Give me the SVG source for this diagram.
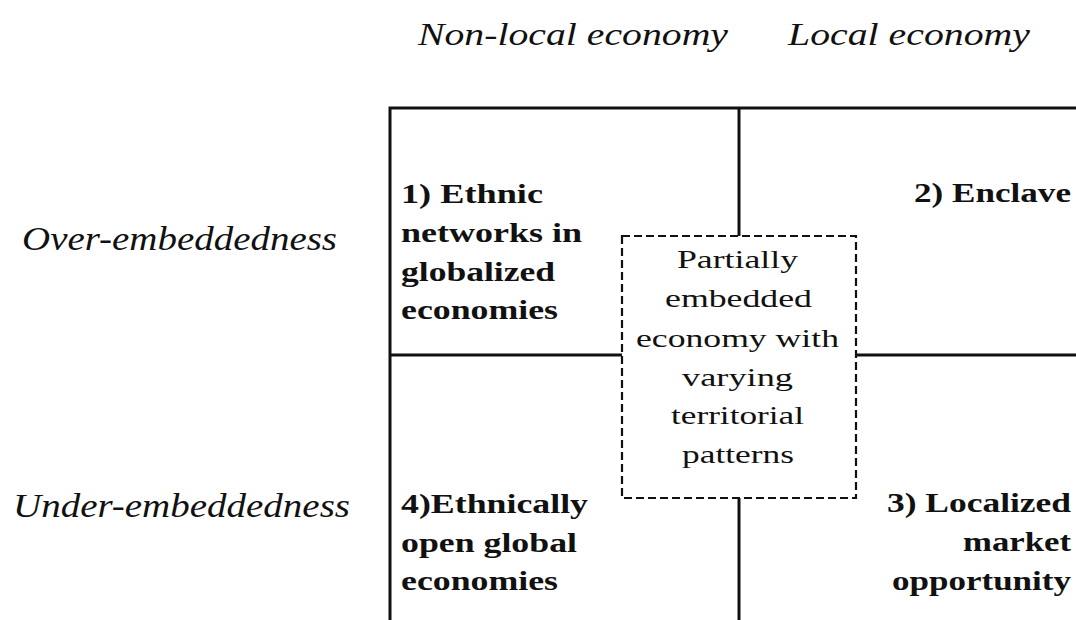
<svg xmlns="http://www.w3.org/2000/svg" width="1076" height="620" viewBox="0 0 1076 620">
<style>
text{font-family:'Liberation Serif',Tinos,'Times New Roman',Times,serif;fill:#111}
.ax{font-style:italic}
.b{font-weight:bold;font-size:27px}
.c{font-size:26px}
.ln{stroke:#111;stroke-width:3;fill:none}
.dash{stroke:#111;stroke-width:2.2;fill:#fff;stroke-dasharray:8 4}
</style>
<rect width="1076" height="620" fill="#fff"/>
<g id="axes">
<text class="ax" x="418" y="45" font-size="32" textLength="310" lengthAdjust="spacingAndGlyphs">Non-local economy</text>
<text class="ax" x="788" y="45" font-size="32" textLength="242" lengthAdjust="spacingAndGlyphs">Local economy</text>
<text class="ax" x="22" y="250" font-size="34" textLength="315" lengthAdjust="spacingAndGlyphs">Over-embeddedness</text>
<text class="ax" x="13" y="517" font-size="34" textLength="337" lengthAdjust="spacingAndGlyphs">Under-embeddedness</text>
</g>
<g id="connectors">
<path class="ln" d="M390 620 V108 H1076"/>
<path class="ln" d="M739 108 V236"/>
<path class="ln" d="M739 498 V620"/>
<path class="ln" d="M390 355 H622"/>
<path class="ln" d="M856 355 H1076"/>
</g>
<g id="q1">
<text class="b" x="401" y="203" textLength="142" lengthAdjust="spacingAndGlyphs">1) Ethnic</text>
<text class="b" x="401" y="242" textLength="181" lengthAdjust="spacingAndGlyphs">networks in</text>
<text class="b" x="401" y="281" textLength="154" lengthAdjust="spacingAndGlyphs">globalized</text>
<text class="b" x="401" y="319" textLength="157" lengthAdjust="spacingAndGlyphs">economies</text>
</g>
<g id="q2">
<text class="b" x="914" y="202" textLength="157" lengthAdjust="spacingAndGlyphs">2) Enclave</text>
</g>
<g id="q3">
<text class="b" x="887" y="512" textLength="184" lengthAdjust="spacingAndGlyphs">3) Localized</text>
<text class="b" x="963" y="551" textLength="108" lengthAdjust="spacingAndGlyphs">market</text>
<text class="b" x="892" y="590" textLength="179" lengthAdjust="spacingAndGlyphs">opportunity</text>
</g>
<g id="q4">
<text class="b" x="401" y="513" textLength="187" lengthAdjust="spacingAndGlyphs">4)Ethnically</text>
<text class="b" x="401" y="552" textLength="176" lengthAdjust="spacingAndGlyphs">open global</text>
<text class="b" x="401" y="590" textLength="157" lengthAdjust="spacingAndGlyphs">economies</text>
</g>
<g id="center">
<rect class="dash" x="622" y="236" width="234" height="262"/>
<text class="c" x="677" y="268" textLength="121" lengthAdjust="spacingAndGlyphs">Partially</text>
<text class="c" x="665" y="307" textLength="147" lengthAdjust="spacingAndGlyphs">embedded</text>
<text class="c" x="636" y="347" textLength="203" lengthAdjust="spacingAndGlyphs">economy with</text>
<text class="c" x="682" y="386" textLength="111" lengthAdjust="spacingAndGlyphs">varying</text>
<text class="c" x="671" y="424" textLength="133" lengthAdjust="spacingAndGlyphs">territorial</text>
<text class="c" x="682" y="463" textLength="112" lengthAdjust="spacingAndGlyphs">patterns</text>
</g>
</svg>
